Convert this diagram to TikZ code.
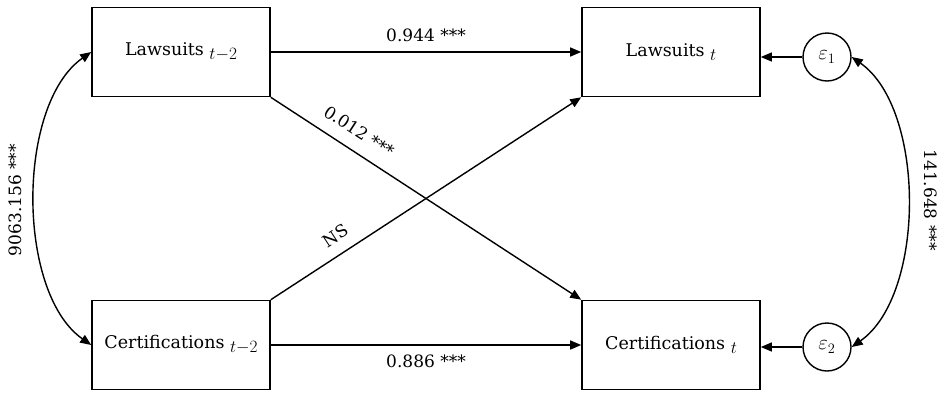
\documentclass[tikz,border=0pt]{standalone}
\usepackage{fontspec}
\setmainfont{DejaVu Serif}
\usetikzlibrary{arrows.meta}
\newcommand\mysub[1]{\raisebox{-0.45ex}{\fontsize{16}{18}\selectfont$#1$}}
\begin{document}
\begin{tikzpicture}[x=1pt,y=-1pt,
  var/.style={draw,line width=1.6pt,minimum width=178pt,minimum height=89pt,inner sep=0pt,font=\fontsize{17.5}{21}\selectfont},
  err/.style={draw,circle,line width=1.4pt,minimum size=48pt,inner sep=0pt,font=\fontsize{20}{22}\selectfont},
  path/.style={line width=1.4pt,-{Triangle[length=11pt,width=9pt]}},
  cov/.style={line width=1.4pt,{Triangle[length=11pt,width=9pt]}-{Triangle[length=11pt,width=9pt]}},
  lab/.style={font=\fontsize{17}{20}\selectfont}]
\useasboundingbox (0,0) rectangle (944,394);
\node[var] (L2) at (181,52) {Lawsuits \mysub{t{-}2}};
\node[var] (Lt) at (671,52) {Lawsuits \mysub{t}};
\node[var] (C2) at (181,345) {Certifications \mysub{t{-}2}};
\node[var] (Ct) at (671,345) {Certifications \mysub{t}};
\node[err] (e1) at (827,57) {$\varepsilon_1$};
\node[err] (e2) at (827,347) {$\varepsilon_2$};
\draw[path] (L2.east) -- node[lab,above=6pt] (l1) {0.944 ***} (Lt.west);
\draw[path] (C2.east) -- node[lab,below=6pt] (l2) {0.886 ***} (Ct.west);
\draw[path] (L2.south east) -- node[lab,pos=0.25,above=9pt,sloped] (l3) {0.012 ***} (Ct.north west);
\draw[path] (C2.north east) -- node[lab,pos=0.24,above=8pt,sloped] (l4) {NS} (Lt.south west);
\draw[path] (e1.west) -- (Lt.east |- e1.west);
\draw[path] (e2.west) -- (Ct.east |- e2.west);
\draw[cov] (L2.west) to[out=215,in=145,looseness=0.8] (C2.west);
\draw[cov] (e1.east) to[out=-35,in=35,looseness=0.8] (e2.east);
\node[lab,rotate=90] (l5) at (15,200) {9063.156 ***};
\node[lab,rotate=-90] (l6) at (931,200) {141.648 ***};
\end{tikzpicture}
\end{document}
